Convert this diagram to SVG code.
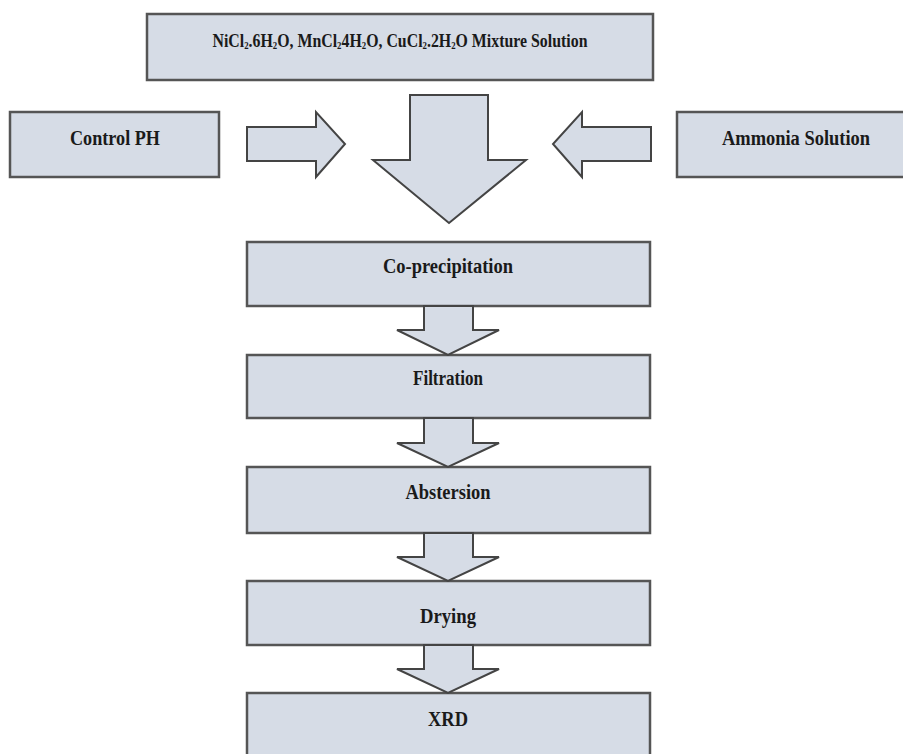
<svg xmlns="http://www.w3.org/2000/svg" width="903" height="754" viewBox="0 0 903 754">
<style>
  .box{fill:#d6dce6;stroke:#555;stroke-width:2.5}
  .arr{fill:#d6dce6;stroke:#444;stroke-width:2;stroke-linejoin:miter}
  .t{font-family:"Liberation Serif","Times New Roman",serif;font-weight:bold;font-size:20px;fill:#1a1a1a;text-anchor:middle}
  .sub{font-size:10.5px}
</style>
<rect width="903" height="754" fill="#ffffff"/>
<g id="mixture">
  <rect class="box" x="147" y="14" width="506" height="66"/>
  <text class="t" style="font-size:19px" transform="scale(0.835,1)" x="479" y="47">NiCl<tspan class="sub" baseline-shift="-2">2</tspan>.6H<tspan class="sub" baseline-shift="-2">2</tspan>O, MnCl<tspan class="sub" baseline-shift="-2">2</tspan>4H<tspan class="sub" baseline-shift="-2">2</tspan>O, CuCl<tspan class="sub" baseline-shift="-2">2</tspan>.2H<tspan class="sub" baseline-shift="-2">2</tspan>O Mixture Solution</text>
</g>
<g id="control-ph">
  <rect class="box" x="10" y="112" width="209" height="65"/>
  <text class="t" x="115" y="145" textLength="90" lengthAdjust="spacingAndGlyphs">Control PH</text>
</g>
<g id="ammonia">
  <rect class="box" x="677" y="112" width="240" height="65"/>
  <text class="t" x="796" y="145" textLength="148" lengthAdjust="spacingAndGlyphs">Ammonia Solution</text>
</g>
<g id="co-precipitation">
  <rect class="box" x="247" y="242" width="403" height="64"/>
  <text class="t" x="448" y="273" textLength="130" lengthAdjust="spacingAndGlyphs">Co-precipitation</text>
</g>
<g id="filtration">
  <rect class="box" x="247" y="355" width="403" height="63"/>
  <text class="t" x="448" y="385" textLength="70" lengthAdjust="spacingAndGlyphs">Filtration</text>
</g>
<g id="abstersion">
  <rect class="box" x="247" y="467" width="403" height="66"/>
  <text class="t" x="448" y="499" textLength="85" lengthAdjust="spacingAndGlyphs">Abstersion</text>
</g>
<g id="drying">
  <rect class="box" x="247" y="581" width="403" height="64"/>
  <text class="t" x="448" y="623" textLength="56" lengthAdjust="spacingAndGlyphs">Drying</text>
</g>
<g id="xrd">
  <rect class="box" x="247" y="693" width="403" height="80"/>
  <text class="t" x="448" y="726" textLength="40" lengthAdjust="spacingAndGlyphs">XRD</text>
</g>
<g id="connectors">
  <polygon class="arr" points="410,95 488,95 488,160 526,160 449,223 373,160 410,160"/>
  <polygon class="arr" points="247,127 316,127 316,112 345,144 316,177 316,161 247,161"/>
  <polygon class="arr" points="651,127 582,127 582,112 553,144 582,177 582,161 651,161"/>
  <polygon class="arr" points="424,306 473,306 473,330 499,330 448,355 397,330 424,330"/>
  <polygon class="arr" points="424,418 473,418 473,443 499,443 448,467 397,443 424,443"/>
  <polygon class="arr" points="424,533 473,533 473,557 499,557 448,581 397,557 424,557"/>
  <polygon class="arr" points="424,645 473,645 473,669 499,669 448,693 397,669 424,669"/>
</g>
</svg>
